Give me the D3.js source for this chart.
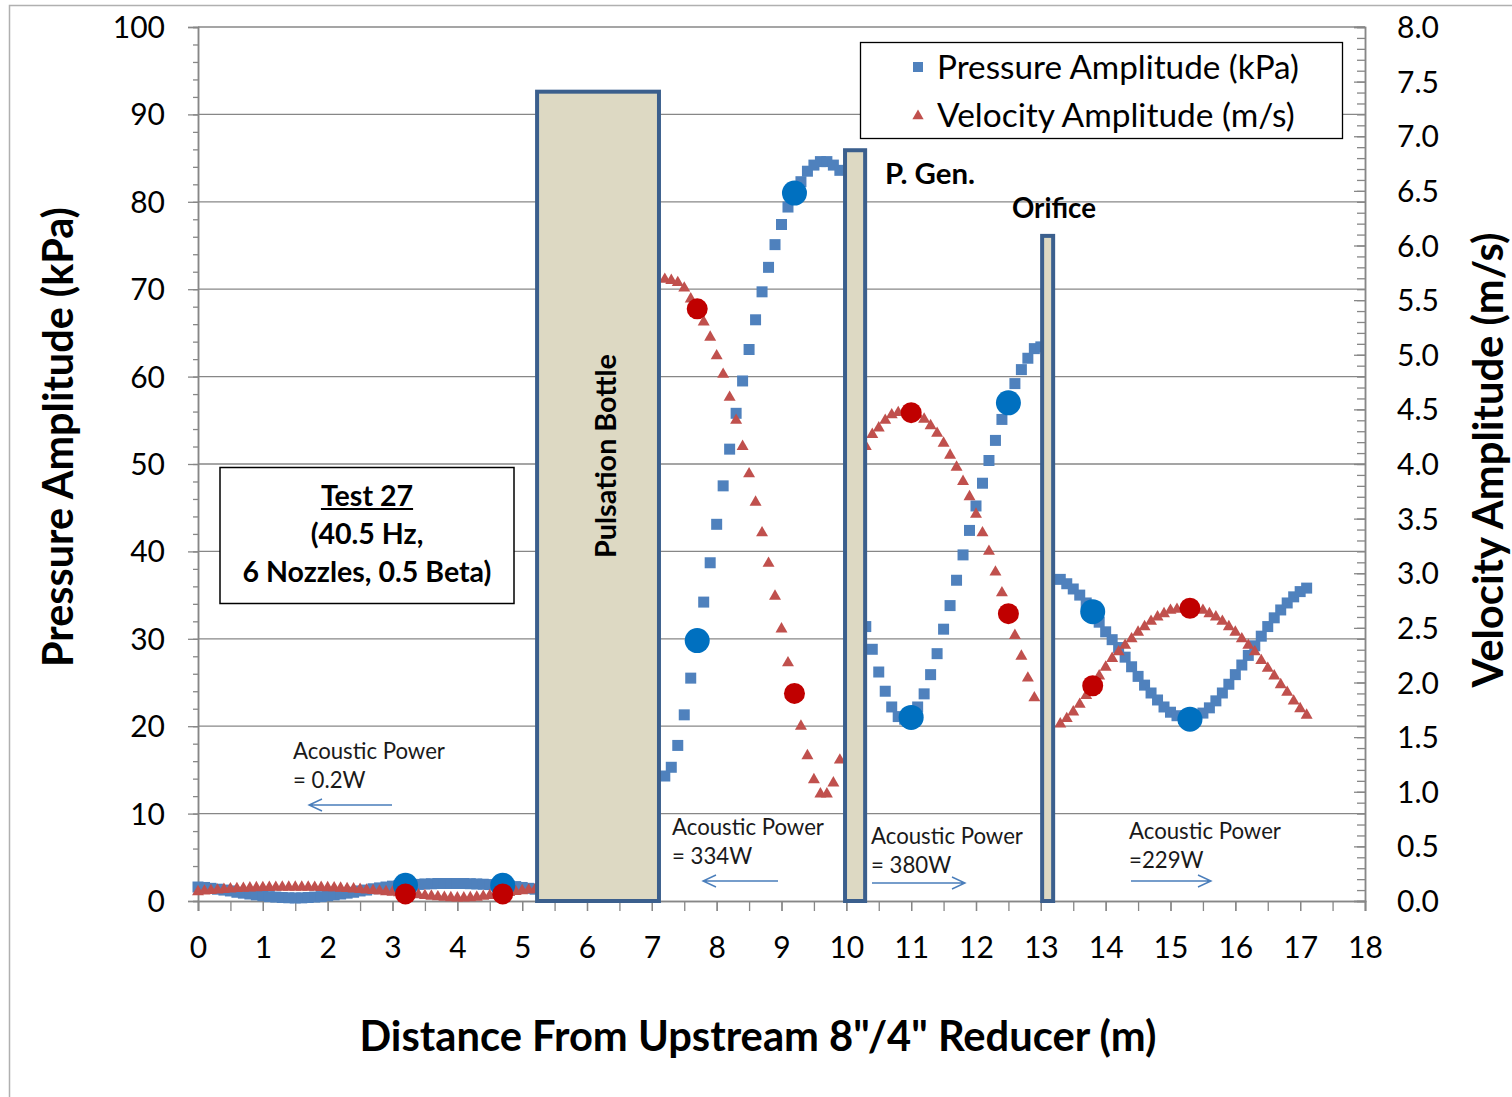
<!DOCTYPE html>
<html><head><meta charset="utf-8">
<script src="https://cdn.jsdelivr.net/npm/d3@7"></script>
<style>body{margin:0;background:#fff}svg{display:block}</style>
</head><body>
<svg id="c" width="1512" height="1097"></svg>
<script>
// ---------------- DATA ----------------
// Segment 1: upstream of pulsation bottle
const seg1Dist = [0.0,0.1,0.2,0.3,0.4,0.5,0.6,0.7,0.8,0.9,1.0,1.1,1.2,1.3,1.4,1.5,1.6,1.7,1.8,1.9,2.0,2.1,2.2,2.3,2.4,2.5,2.6,2.7,2.8,2.9,3.0,3.1,3.2,3.3,3.4,3.5,3.6,3.7,3.8,3.9,4.0,4.1,4.2,4.3,4.4,4.5,4.6,4.7,4.8,4.9,5.0,5.1,5.2];
const seg1Pressure = [1.6,1.55,1.45,1.35,1.25,1.15,1.0,0.9,0.8,0.7,0.6,0.5,0.45,0.4,0.37,0.35,0.36,0.4,0.45,0.5,0.6,0.7,0.8,0.9,1.0,1.15,1.25,1.4,1.5,1.6,1.7,1.75,1.8,1.85,1.9,1.95,1.97,2.0,2.0,2.0,2.0,2.0,1.98,1.95,1.92,1.88,1.84,1.8,1.72,1.65,1.55,1.45,1.35];
const seg1Velocity = [0.085,0.09,0.095,0.1,0.105,0.11,0.113,0.116,0.119,0.121,0.123,0.124,0.125,0.126,0.126,0.126,0.126,0.126,0.125,0.124,0.122,0.12,0.117,0.114,0.11,0.105,0.1,0.095,0.09,0.085,0.08,0.075,0.07,0.063,0.056,0.05,0.044,0.038,0.033,0.03,0.028,0.028,0.03,0.035,0.042,0.05,0.06,0.07,0.078,0.086,0.094,0.1,0.105];
// Segment 2: bottle to pulsation generator
const seg2Dist = [7.2,7.3,7.4,7.5,7.6,7.7,7.8,7.9,8.0,8.1,8.2,8.3,8.4,8.5,8.6,8.7,8.8,8.9,9.0,9.1,9.2,9.3,9.4,9.5,9.6,9.7,9.8,9.9];
const seg2Pressure = [14.3,15.3,17.8,21.3,25.5,29.8,34.2,38.7,43.1,47.5,51.7,55.8,59.5,63.1,66.5,69.7,72.5,75.1,77.4,79.4,81.1,82.3,83.5,84.2,84.6,84.6,84.2,83.6];
const seg2Velocity = [5.69,5.68,5.66,5.61,5.51,5.42,5.30,5.16,4.99,4.82,4.61,4.40,4.16,3.91,3.65,3.37,3.09,2.79,2.49,2.18,1.90,1.60,1.33,1.11,0.98,0.98,1.08,1.29];
// Segment 3: pulsation generator to orifice
const seg3Dist = [10.3,10.4,10.5,10.6,10.7,10.8,10.9,11.0,11.1,11.2,11.3,11.4,11.5,11.6,11.7,11.8,11.9,12.0,12.1,12.2,12.3,12.4,12.5,12.6,12.7,12.8,12.9,13.0];
const seg3Pressure = [31.4,28.8,26.2,24.0,22.2,21.1,20.8,21.0,22.2,23.7,25.9,28.3,31.1,33.8,36.7,39.6,42.4,45.2,47.8,50.4,52.7,55.1,57.0,59.2,60.8,62.1,63.2,63.4];
const seg3Velocity = [4.16,4.27,4.33,4.40,4.45,4.47,4.48,4.47,4.45,4.41,4.35,4.28,4.19,4.08,3.97,3.84,3.70,3.54,3.37,3.20,3.01,2.82,2.63,2.43,2.24,2.04,1.86];
// Segment 4: downstream of orifice
const seg4Dist = [13.3,13.4,13.5,13.6,13.7,13.8,13.9,14.0,14.1,14.2,14.3,14.4,14.5,14.6,14.7,14.8,14.9,15.0,15.1,15.2,15.3,15.4,15.5,15.6,15.7,15.8,15.9,16.0,16.1,16.2,16.3,16.4,16.5,16.6,16.7,16.8,16.9,17.0,17.1];
const seg4Pressure = [36.8,36.3,35.7,35.0,34.1,33.1,31.9,30.8,29.9,29.0,27.9,26.8,25.7,24.7,23.8,23.0,22.2,21.6,21.2,20.9,20.8,21.1,21.5,22.1,22.9,23.8,24.8,25.9,27.0,28.1,29.2,30.3,31.4,32.4,33.3,34.1,34.8,35.4,35.8];
const seg4Velocity = [1.62,1.67,1.73,1.80,1.88,1.97,2.06,2.14,2.22,2.28,2.34,2.40,2.46,2.51,2.56,2.60,2.63,2.66,2.67,2.68,2.68,2.68,2.66,2.63,2.60,2.56,2.51,2.46,2.40,2.34,2.28,2.20,2.13,2.06,1.98,1.91,1.83,1.76,1.70];
// Measurement points (large dots)
const measDist = [3.2,4.7,7.7,9.2,11.0,12.5,13.8,15.3];
const measPressure = [1.8,1.8,29.8,81.0,21.0,57.0,33.1,20.8];
const measVelocity = [0.065,0.065,5.42,1.90,4.47,2.63,1.97,2.68];
// Equipment boxes
const boxNames = ["Pulsation Bottle","P. Gen.","Orifice"];
const boxStart = [5.23,9.98,13.02];
const boxEnd = [7.11,10.29,13.19];
const boxTop = [92.6,85.9,76.1];
// Axis ticks
const xTicks = [0,1,2,3,4,5,6,7,8,9,10,11,12,13,14,15,16,17,18];
const yLeftTicks = [0,10,20,30,40,50,60,70,80,90,100];
const yRightTicks = [0,0.5,1,1.5,2,2.5,3,3.5,4,4.5,5,5.5,6,6.5,7,7.5,8];
// Texts
const powerLabels = ["= 0.2W","= 334W","= 380W","=229W"];
const powerDirections = ["left","left","right","right"];
const seriesNames = ["Pressure Amplitude (kPa)","Velocity Amplitude (m/s)"];
const testLines = ["Test 27","(40.5 Hz,","6 Nozzles, 0.5 Beta)"];

// ---------------- DRAW ----------------
const FONT = "Lato, 'Open Sans', sans-serif";
const svg = d3.select("#c").style("font-family", FONT);
const x = d3.scaleLinear([0,18],[198,1365]);
const yL = d3.scaleLinear([0,100],[901,27]);
const yR = d3.scaleLinear([0,8],[901,27]);
const GRID = "#878787", BLUE="#4F81BD", RED="#C0504D", DBLUE="#0070C0", DRED="#C00000";
const BOXFILL="#DDD9C3", BOXSTROKE="#3B5F8D", ARROW="#4A7EBB";

function fitW(sel, w){
  sel.each(function(){
    const L = this.getComputedTextLength();
    const fs = parseFloat(this.getAttribute("font-size"));
    if (L>0) this.setAttribute("font-size", fs*w/L);
  });
  return sel;
}

// outer chart border
svg.append("path").attr("d","M9.5,1097V5.5H1512").attr("fill","none").attr("stroke","#b0b0b0").attr("stroke-width",1.5);

// gridlines
svg.append("g").selectAll("line").data(yLeftTicks.filter(d=>d>0)).join("line")
  .attr("x1",x(0)).attr("x2",x(18)).attr("y1",d=>yL(d)).attr("y2",d=>yL(d))
  .attr("stroke",GRID).attr("stroke-width",1.3);

// left axis minor ticks
const gLm = svg.append("g").attr("transform",`translate(${x(0)},0)`)
  .call(d3.axisLeft(yL).tickValues(yL.ticks(50)).tickSize(5).tickFormat(""));
// left axis major
const gL = svg.append("g").attr("transform",`translate(${x(0)},0)`)
  .call(d3.axisLeft(yL).tickValues(yLeftTicks).tickSize(10).tickPadding(23).tickFormat(d3.format("d")));
// right axis
const gRm = svg.append("g").attr("transform",`translate(${x(18)},0)`)
  .call(d3.axisRight(yR).tickValues(yR.ticks(80)).tickSize(-8).tickFormat(""));
const gR = svg.append("g").attr("transform",`translate(${x(18)},0)`)
  .call(d3.axisRight(yR).tickValues(yRightTicks).tickSize(-11).tickPadding(32).tickFormat(d3.format(".1f")));
// bottom axis
const gXm = svg.append("g").attr("transform",`translate(0,${yL(0)})`)
  .call(d3.axisBottom(x).tickValues(x.ticks(36)).tickSize(10).tickFormat(""));
const gX = svg.append("g").attr("transform",`translate(0,${yL(0)})`)
  .call(d3.axisBottom(x).tickValues(xTicks).tickSize(10).tickPadding(0).tickFormat(d3.format("d")));

[gLm,gL,gRm,gR,gXm,gX].forEach(g=>{
  g.selectAll(".domain").attr("stroke",GRID).attr("stroke-width",1.5);
  g.selectAll(".tick line").attr("stroke",GRID).attr("stroke-width",1.3);
  g.selectAll("text").attr("font-family",FONT).attr("font-size",30).attr("fill","#000");
});
gX.selectAll(".tick text").attr("y",46).attr("dy","0.35em");
gL.selectAll(".tick text").attr("dy","0.35em");
gR.selectAll(".tick text").attr("dy","0.35em");

// series
const sq = d3.symbol(d3.symbolSquare, 121)();
const tri = d3.symbol(d3.symbolTriangle, 62)();
const pSegs = [[seg1Dist,seg1Pressure],[seg2Dist,seg2Pressure],[seg3Dist,seg3Pressure],[seg4Dist,seg4Pressure]];
const vSegs = [[seg1Dist,seg1Velocity],[seg2Dist,seg2Velocity],[seg3Dist,seg3Velocity],[seg4Dist,seg4Velocity]];
const pPts = pSegs.flatMap(([d,v])=>v.map((val,i)=>[d[i],val]));
const vPts = vSegs.flatMap(([d,v])=>v.map((val,i)=>[d[i],val]));
svg.append("g").selectAll("path").data(pPts).join("path").attr("d",sq)
  .attr("transform",d=>`translate(${x(d[0])},${yL(d[1])})`).attr("fill",BLUE);
svg.append("g").selectAll("path").data(vPts).join("path").attr("d",tri)
  .attr("transform",d=>`translate(${x(d[0])},${yR(d[1])})`).attr("fill",RED);
svg.append("g").selectAll("circle").data(measDist).join("circle")
  .attr("cx",d=>x(d)).attr("cy",(d,i)=>yL(measPressure[i])).attr("r",12.5).attr("fill",DBLUE);
svg.append("g").selectAll("circle").data(measDist).join("circle")
  .attr("cx",d=>x(d)).attr("cy",(d,i)=>yR(measVelocity[i])).attr("r",10.5).attr("fill",DRED);

// equipment boxes
svg.append("g").selectAll("rect").data(boxNames).join("rect")
  .attr("x",(d,i)=>x(boxStart[i])).attr("width",(d,i)=>x(boxEnd[i])-x(boxStart[i]))
  .attr("y",(d,i)=>yL(boxTop[i])).attr("height",(d,i)=>yL(0)-yL(boxTop[i]))
  .attr("fill",BOXFILL).attr("stroke",BOXSTROKE).attr("stroke-width",4);

// box labels
const bl = svg.append("text").attr("transform",`translate(${(x(boxStart[0])+x(boxEnd[0]))/2+8},456) rotate(-90)`)
  .attr("text-anchor","middle").attr("dy","0.35em").attr("font-weight",700).attr("font-size",24).text(boxNames[0]);
fitW(bl,204);
fitW(svg.append("text").attr("x",885).attr("y",174).attr("dy","0.35em").attr("font-weight",700).attr("font-size",24).text(boxNames[1]),90);
fitW(svg.append("text").attr("x",1012).attr("y",208).attr("dy","0.35em").attr("font-weight",700).attr("font-size",24).text(boxNames[2]),84);

// test info box
svg.append("rect").attr("x",220).attr("y",467.5).attr("width",294).attr("height",136).attr("fill","#fff").attr("stroke","#000").attr("stroke-width",1.5);
const tl = svg.append("g").selectAll("text").data(testLines).join("text")
  .attr("x",367).attr("y",(d,i)=>496+i*38).attr("dy","0.35em").attr("text-anchor","middle")
  .attr("font-weight",700).attr("font-size",25).text(d=>d);
fitW(tl.filter((d,i)=>i===2),249);
const fs2 = tl.filter((d,i)=>i===2).attr("font-size");
tl.attr("font-size",fs2);
const t0w = tl.filter((d,i)=>i===0).node().getComputedTextLength();
svg.append("line").attr("x1",367-t0w/2).attr("x2",367+t0w/2).attr("y1",509).attr("y2",509).attr("stroke","#000").attr("stroke-width",1.8);

// legend
svg.append("rect").attr("x",860.5).attr("y",42.5).attr("width",482).attr("height",96).attr("fill","#fff").attr("stroke","#000").attr("stroke-width",1.3);
svg.append("path").attr("d",d3.symbol(d3.symbolSquare,100)()).attr("transform","translate(918,67)").attr("fill",BLUE);
svg.append("path").attr("d",d3.symbol(d3.symbolTriangle,55)()).attr("transform","translate(918,116)").attr("fill",RED);
fitW(svg.append("text").attr("x",937).attr("y",67).attr("dy","0.35em").attr("font-size",28).text(seriesNames[0]),362);
fitW(svg.append("text").attr("x",937).attr("y",115).attr("dy","0.35em").attr("font-size",28).text(seriesNames[1]),358);

// axis titles (rotated: glyph tops point left, baseline on the right)
fitW(svg.append("text").attr("transform","translate(73,437) rotate(-90)").attr("text-anchor","middle")
  .attr("font-weight",700).attr("font-size",36).text(seriesNames[0]),460);
fitW(svg.append("text").attr("transform","translate(1503,460) rotate(-90)").attr("text-anchor","middle")
  .attr("font-weight",700).attr("font-size",36).text(seriesNames[1]),455);
fitW(svg.append("text").attr("x",758).attr("y",1036).attr("text-anchor","middle").attr("dy","0.35em")
  .attr("font-weight",700).attr("font-size",38).text('Distance From Upstream 8"/4" Reducer (m)'),797);

// acoustic power annotations
const annX = [293,672,871,1129];
const annY = [751,827,836,831];
const arrowFrom = [392,778,872,1131];
const arrowTo = [309,703,965,1211];
const arrowY = [805,881,883,881];
powerLabels.forEach((lab,i)=>{
  const t1 = svg.append("text").attr("x",annX[i]).attr("y",annY[i]).attr("dy","0.35em").attr("font-size",20).attr("fill","#1a1a1a").text("Acoustic Power");
  fitW(t1,152);
  svg.append("text").attr("x",annX[i]).attr("y",annY[i]+29).attr("dy","0.35em").attr("font-size",t1.attr("font-size")).attr("fill","#1a1a1a").text(lab);
  const x0=arrowFrom[i], x1=arrowTo[i], y=arrowY[i], s = powerDirections[i]==="left"?1:-1;
  svg.append("path").attr("d",`M${x0},${y}H${x1}M${x1+s*13},${y-6}L${x1},${y}L${x1+s*13},${y+6}`)
    .attr("fill","none").attr("stroke",ARROW).attr("stroke-width",1.4);
});
</script>
</body></html>
